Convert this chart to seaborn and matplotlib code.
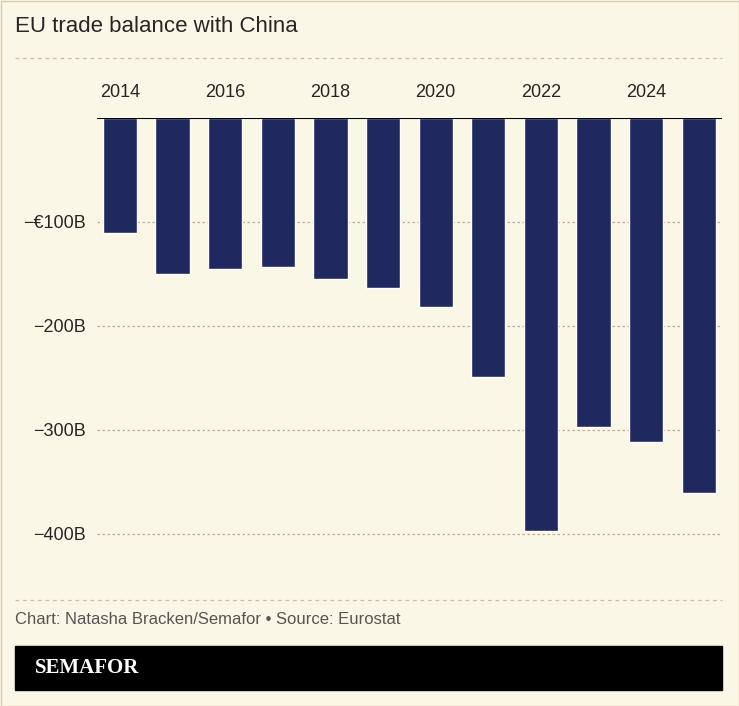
import matplotlib
matplotlib.use("Agg")
import matplotlib.pyplot as plt
import seaborn as sns
import pandas as pd
from matplotlib.patches import Rectangle
from matplotlib.lines import Line2D

years = [2014, 2015, 2016, 2017, 2018, 2019, 2020, 2021, 2022, 2023, 2024, 2025]
balance = [-111, -150, -145, -143, -155, -164, -182, -249, -397, -297, -312, -361]
ytick_vals = [-100, -200, -300, -400]
ytick_labels = ["\u2212\u20ac100B", "\u2212200B", "\u2212300B", "\u2212400B"]

BG = "#fbf7e6"
BAR = "#1f2960"
df = pd.DataFrame({"year": [str(y) for y in years], "balance": balance})

sns.set_style("white")
plt.rcParams["font.family"] = ["Liberation Sans", "DejaVu Sans"]

fig = plt.figure(figsize=(7.39, 7.06), dpi=100, facecolor=BG)
ax = fig.add_axes([0.131, 0.207, 0.846, 0.626])
ax.set_facecolor(BG)

sns.barplot(data=df, x="year", y="balance", color=BAR, width=0.65,
            saturation=1, ax=ax, zorder=3)
ax.set_xlim(-0.44, 11.44)
ax.set_ylim(-425, 0)
ax.xaxis.tick_top()
ax.set_xticks(range(len(years)))
ax.set_xticklabels([str(y) if y % 2 == 0 else "" for y in years], fontsize=13)
ax.tick_params(axis="x", length=0, pad=12)
ax.set_yticks(ytick_vals)
ax.set_yticklabels(ytick_labels, fontsize=13)
ax.tick_params(axis="y", length=0, pad=8)
for v in ytick_vals:
    ax.axhline(v, color="#c9a79a", lw=0.9, ls=(0, (2, 2)), zorder=1)
ax.axhline(0, color="black", lw=1.5, zorder=4)
ax.set_xlabel("")
ax.set_ylabel("")
for s in ax.spines.values():
    s.set_visible(False)

# frame and text decorations
W, H = 739, 706
fig.patches.append(Rectangle((0.5 / W, 0.5 / H), 1 - 1 / W, 1 - 1 / H, transform=fig.transFigure,
                             fill=False, ec="#d8ccb0", lw=1))
for yy in [58, 600]:
    fig.lines.append(Line2D([15 / W, 722 / W], [1 - yy / H] * 2, transform=fig.transFigure,
                            color="#d6b8a8", lw=0.9, ls=(0, (3, 3))))
fig.text(15 / W, 1 - 27 / H, "EU trade balance with China", fontsize=16, va="center")
fig.text(15 / W, 1 - 620 / H, "Chart: Natasha Bracken/Semafor \u2022 Source: Eurostat",
         fontsize=12, color="#555555", va="center")
fig.patches.append(Rectangle((15 / W, 1 - 690 / H), 707 / W, 44 / H, transform=fig.transFigure,
                             color="black"))
fig.text(35 / W, 1 - 668 / H, "SEMAFOR", fontsize=15, color="white", fontweight="bold",
         family="Liberation Serif", va="center")

fig.savefig("out.png", dpi=100, facecolor=BG)
